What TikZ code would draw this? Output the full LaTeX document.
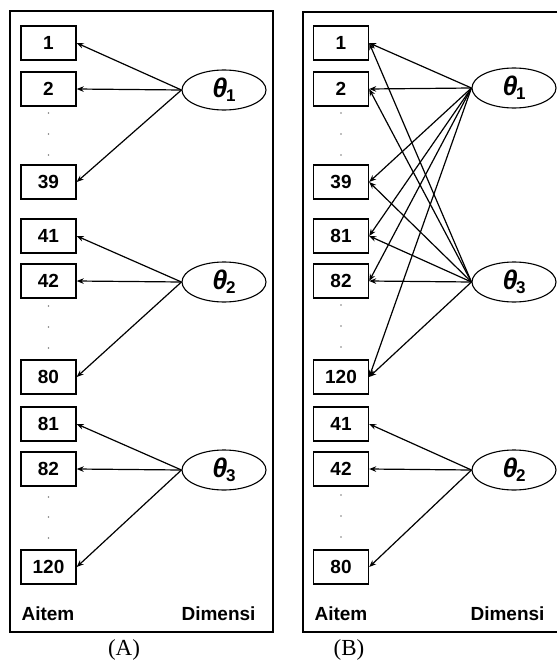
\documentclass[tikz,border=0pt]{standalone}
\usepackage{fontspec}
\setmainfont{Liberation Sans}
\newfontfamily\capfont{Liberation Serif}
\usetikzlibrary{shapes.geometric,arrows.meta}
\tikzset{
  item/.style={draw,line width=1.4pt,minimum width=55pt,minimum height=34pt,inner sep=0pt,
    font=\fontsize{19}{19}\selectfont\bfseries},
  dimen/.style={draw,ellipse,line width=1.1pt,minimum width=84pt,minimum height=40pt,inner sep=0pt},
  load/.style={-{Stealth[length=7pt,width=5.5pt]},line width=1.2pt},
  frame/.style={line width=2.4pt},
  lab/.style={font=\fontsize{19}{19}\selectfont\bfseries},
  caption/.style={font=\capfont\fontsize{23}{23}\selectfont},
}
\newcommand{\dimtheta}[1]{\fontsize{27}{27}\selectfont\bfseries\itshape θ\kern-1.5pt\raisebox{-4pt}{\fontsize{17}{17}\selectfont\upshape\bfseries #1}}

\begin{document}
\begin{tikzpicture}[x=1pt,y=-1pt]
  \useasboundingbox (0,0) rectangle (557,666);

  % panel (A)
  \draw[frame] (10,11) rectangle (273,632);
  \node[item] (a1)   at (48.5,43)  {1};
  \node[item] (a2)   at (48.5,89)  {2};
  \node[item] (a39)  at (48.5,182) {39};
  \node[item] (a41)  at (48.5,236) {41};
  \node[item] (a42)  at (48.5,281) {42};
  \node[item] (a80)  at (48.5,377) {80};
  \node[item] (a81)  at (48.5,424) {81};
  \node[item] (a82)  at (48.5,469) {82};
  \node[item] (a120) at (48.5,567) {120};
  \foreach \y in {113,134,155,306,327,348,497,517,538}
    \fill[gray] (48.5,\y) circle (0.9pt);

  \node[dimen] (ta1) at (224,90)  {\dimtheta{1}};
  \node[dimen] (ta2) at (224,282) {\dimtheta{2}};
  \node[dimen] (ta3) at (224,470) {\dimtheta{3}};

  \foreach \i in {1,2,39}   \draw[load] (ta1.west) -- (a\i.east);
  \foreach \i in {41,42,80} \draw[load] (ta2.west) -- (a\i.east);
  \foreach \i in {81,82,120} \draw[load] (ta3.west) -- (a\i.east);

  \node[lab,anchor=west] (aitemA) at (18,614) {Aitem};
  \node[lab,anchor=east] (dimA) at (259,614) {Dimensi};
  \node[caption] (capA) at (124,650) {(A)};

  % panel (B)
  \draw[frame] (557,12) -- (303,12) -- (303,632) -- (557,632);
  \node[item] (b1)   at (341,43)  {1};
  \node[item] (b2)   at (341,89)  {2};
  \node[item] (b39)  at (341,182) {39};
  \node[item] (b81)  at (341,236) {81};
  \node[item] (b82)  at (341,281) {82};
  \node[item] (b120) at (341,377) {120};
  \node[item] (b41)  at (341,424) {41};
  \node[item] (b42)  at (341,469) {42};
  \node[item] (b80)  at (341,567) {80};
  \foreach \y in {113,134,155,305,326,347,495,516,537}
    \fill[gray] (341,\y) circle (0.9pt);

  \node[dimen] (tb1) at (514,88)  {\dimtheta{1}};
  \node[dimen] (tb3) at (514,282) {\dimtheta{3}};
  \node[dimen] (tb2) at (514,470) {\dimtheta{2}};

  \foreach \i in {1,2,39,81,82,120} {
    \draw[load] (tb1.west) -- (b\i.east);
    \draw[load] (tb3.west) -- (b\i.east);
  }
  \foreach \i in {41,42,80} \draw[load] (tb2.west) -- (b\i.east);

  \node[lab,anchor=west] (aitemB) at (311,614) {Aitem};
  \node[lab,anchor=east] (dimB) at (548,614) {Dimensi};
  \node[caption] (capB) at (349,650) {(B)};
\end{tikzpicture}
\end{document}
